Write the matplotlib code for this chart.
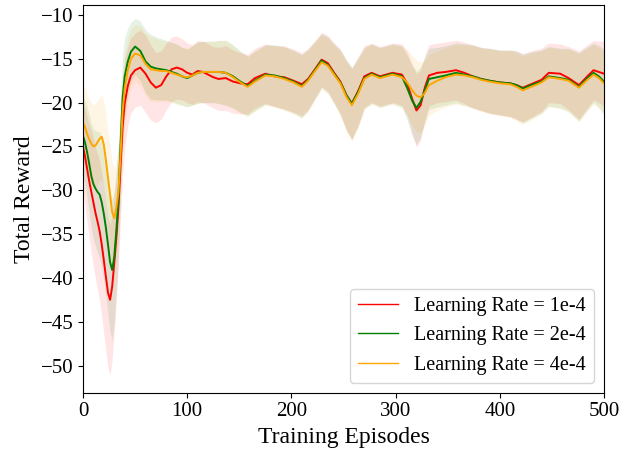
import numpy as np
import matplotlib
matplotlib.use('Agg')
import matplotlib.pyplot as plt

plt.rcParams['font.family'] = ['Liberation Serif', 'DejaVu Serif']
plt.rcParams['mathtext.fontset'] = 'stix'

# Episodios muestreados (mas densos al principio, donde la curva cambia rapido)
episodios = [0, 2, 4, 6, 8, 10, 12, 14, 16, 18, 20, 22, 24, 26, 28, 30, 32, 34, 36, 38,
             40, 43, 46, 50, 55, 60, 65, 70, 75, 80, 85, 90, 95, 100, 105, 110, 115, 120, 125, 130,
             137, 144, 151, 158, 165, 175, 184, 193, 202, 210, 216, 222, 229, 235, 241, 247, 253, 258, 264, 270,
             277, 285, 297, 306, 311, 316, 320, 324, 328, 332, 340, 348, 358, 366, 374, 382, 390, 400, 410, 416,
             422, 430, 440, 447, 458, 466, 476, 484, 490, 495, 500]

etiquetas = ['Learning Rate = 1e-4', 'Learning Rate = 2e-4', 'Learning Rate = 4e-4']
colores = ['red', 'green', 'orange']

# Recompensa media (lr = 1e-4)
media_1e4 = [-25.0, -26.2, -27.6, -29.0, -30.2, -31.4, -32.6, -33.6, -34.7, -36.2,
             -38.0, -39.9, -41.7, -42.5, -41.0, -38.3, -35.4, -32.0, -27.3, -22.8,
             -20.1, -18.1, -16.9, -16.3, -16.0, -16.7, -17.7, -18.3, -18.0, -17.0,
             -16.2, -16.0, -16.2, -16.6, -16.8, -16.4, -16.5, -16.8, -17.1, -17.3,
             -17.2, -17.6, -17.8, -17.9, -17.2, -16.7, -17.0, -17.1, -17.5, -17.9,
             -17.3, -16.3, -15.1, -15.5, -16.6, -17.6, -19.2, -20.1, -18.7, -17.0,
             -16.6, -17.0, -16.6, -16.8, -17.8, -19.6, -20.9, -20.3, -18.3, -16.9,
             -16.6, -16.5, -16.3, -16.6, -17.0, -17.3, -17.5, -17.7, -17.8, -18.0,
             -18.3, -17.9, -17.4, -16.6, -16.7, -17.2, -18.0, -17.0, -16.3, -16.5,
             -16.7]

# Recompensa media (lr = 2e-4)
media_2e4 = [-23.8, -24.6, -25.7, -27.0, -28.4, -29.3, -29.8, -30.2, -30.5, -31.4,
             -32.7, -34.3, -36.2, -38.2, -39.1, -37.6, -34.6, -31.0, -25.0, -19.5,
             -17.0, -15.3, -14.2, -13.6, -14.1, -15.3, -15.9, -16.1, -16.2, -16.3,
             -16.5, -16.7, -17.0, -17.2, -16.9, -16.6, -16.5, -16.5, -16.5, -16.5,
             -16.6, -17.0, -17.6, -18.1, -17.5, -16.8, -16.9, -17.2, -17.6, -18.1,
             -17.4, -16.4, -15.2, -15.7, -16.7, -17.7, -19.2, -20.1, -18.8, -17.2,
             -16.7, -17.1, -16.7, -17.0, -18.3, -19.8, -20.6, -19.9, -18.6, -17.3,
             -17.1, -16.9, -16.6, -16.8, -17.0, -17.3, -17.5, -17.7, -17.8, -18.0,
             -18.4, -18.0, -17.6, -17.0, -17.2, -17.4, -18.2, -17.2, -16.6, -17.0,
             -17.6]

# Recompensa media (lr = 4e-4)
media_4e4 = [-22.3, -22.8, -23.6, -24.2, -24.7, -25.0, -24.9, -24.5, -24.1, -23.9,
             -24.8, -26.6, -28.6, -30.5, -32.5, -33.2, -32.0, -30.2, -26.0, -21.0,
             -18.4, -16.3, -15.0, -14.4, -14.6, -15.6, -16.2, -16.3, -16.4, -16.4,
             -16.6, -16.8, -17.0, -17.1, -16.9, -16.6, -16.5, -16.5, -16.5, -16.5,
             -16.6, -17.1, -17.7, -18.2, -17.6, -16.9, -17.0, -17.3, -17.7, -18.2,
             -17.5, -16.5, -15.4, -15.8, -16.8, -17.8, -19.4, -20.3, -19.0, -17.3,
             -16.8, -17.2, -16.8, -17.1, -17.7, -18.6, -19.2, -19.4, -18.9, -18.0,
             -17.5, -17.1, -16.8, -16.9, -17.1, -17.4, -17.6, -17.8, -17.9, -18.2,
             -18.6, -18.2, -17.7, -17.1, -17.3, -17.5, -18.3, -17.4, -16.8, -17.2,
             -17.8]

# Desviacion estandar de cada serie
desv_1e4 = [5.0, 5.5, 6.0, 6.5, 7.0, 7.3, 7.5, 7.8, 8.0, 8.2,
            8.4, 8.5, 8.6, 8.6, 8.3, 7.8, 7.0, 6.5, 6.0, 5.5,
            5.0, 4.5, 4.3, 4.2, 4.3, 4.4, 4.3, 4.0, 3.9, 3.8,
            3.7, 3.6, 3.5, 3.4, 3.4, 3.5, 3.5, 3.5, 3.5, 3.6,
            3.7, 3.6, 3.5, 3.4, 3.4, 3.4, 3.5, 3.6, 3.6, 3.6,
            3.5, 3.3, 3.1, 3.2, 3.4, 3.7, 4.0, 4.1, 3.9, 3.5,
            3.4, 3.4, 3.4, 3.5, 3.7, 4.0, 4.2, 4.0, 3.7, 3.5,
            3.4, 3.4, 3.4, 3.5, 3.6, 3.6, 3.7, 3.7, 3.8, 3.9,
            3.9, 3.8, 3.6, 3.4, 3.4, 3.6, 3.9, 3.6, 3.4, 3.5,
            3.7]

desv_2e4 = [4.5, 4.8, 5.2, 5.6, 6.0, 6.3, 6.6, 6.9, 7.2, 7.4,
            7.6, 7.8, 8.0, 8.0, 8.0, 7.6, 7.0, 6.4, 5.8, 5.0,
            4.4, 3.8, 3.4, 3.2, 3.4, 3.6, 3.7, 3.6, 3.5, 3.4,
            3.4, 3.4, 3.3, 3.3, 3.4, 3.5, 3.5, 3.5, 3.5, 3.6,
            3.7, 3.6, 3.5, 3.4, 3.4, 3.4, 3.5, 3.6, 3.6, 3.6,
            3.5, 3.3, 3.1, 3.2, 3.4, 3.7, 4.0, 4.1, 3.9, 3.5,
            3.4, 3.4, 3.4, 3.5, 3.7, 4.0, 4.2, 4.0, 3.7, 3.5,
            3.4, 3.4, 3.4, 3.5, 3.6, 3.6, 3.7, 3.7, 3.8, 3.9,
            3.9, 3.8, 3.6, 3.4, 3.4, 3.6, 3.9, 3.6, 3.4, 3.5,
            3.7]

desv_4e4 = [4.3, 4.4, 4.5, 4.6, 4.7, 4.8, 4.8, 4.8, 4.8, 4.8,
            5.0, 5.2, 5.4, 5.6, 5.7, 5.6, 5.4, 5.0, 4.6, 4.2,
            3.9, 3.6, 3.4, 3.3, 3.4, 3.6, 3.7, 3.6, 3.5, 3.4,
            3.4, 3.4, 3.3, 3.3, 3.4, 3.5, 3.5, 3.5, 3.5, 3.6,
            3.7, 3.6, 3.5, 3.4, 3.4, 3.4, 3.5, 3.6, 3.6, 3.6,
            3.5, 3.3, 3.1, 3.2, 3.4, 3.7, 4.0, 4.1, 3.9, 3.5,
            3.4, 3.4, 3.4, 3.5, 3.7, 4.0, 4.1, 4.0, 3.7, 3.5,
            3.4, 3.4, 3.4, 3.5, 3.6, 3.6, 3.7, 3.7, 3.8, 3.9,
            3.9, 3.8, 3.6, 3.4, 3.4, 3.6, 3.9, 3.6, 3.4, 3.5,
            3.7]

medias = [media_1e4, media_2e4, media_4e4]
desviaciones = [desv_1e4, desv_2e4, desv_4e4]

fig = plt.figure(figsize=(6.37, 4.53), dpi=100)
ax = fig.add_axes([0.1303, 0.1331, 0.8179, 0.8559])

x = np.array(episodios)
for media, desv, color in zip(medias, desviaciones, colores):
    m = np.array(media)
    s = np.array(desv)
    ax.fill_between(x, m - s, m + s, color=color, alpha=0.1, linewidth=0)

for media, color, etiqueta in zip(medias, colores, etiquetas):
    ax.plot(x, media, color=color, linewidth=1.4, label=etiqueta)

ax.set_xlim(0, 500)
ax.set_ylim(-53.1, -8.86)
ax.set_xticks([0, 100, 200, 300, 400, 500])
ax.set_yticks([-50, -45, -40, -35, -30, -25, -20, -15, -10])
ax.tick_params(labelsize=15)
ax.set_xlabel('Training Episodes', fontsize=17)
ax.set_ylabel('Total Reward', fontsize=17)
leyenda = ax.legend(loc='lower right', fontsize=14.5)
# las lineas de la leyenda son mas finas que las del grafico
for linea in leyenda.get_lines():
    linea.set_linewidth(1.0)

fig.savefig('out.png', dpi=100)
